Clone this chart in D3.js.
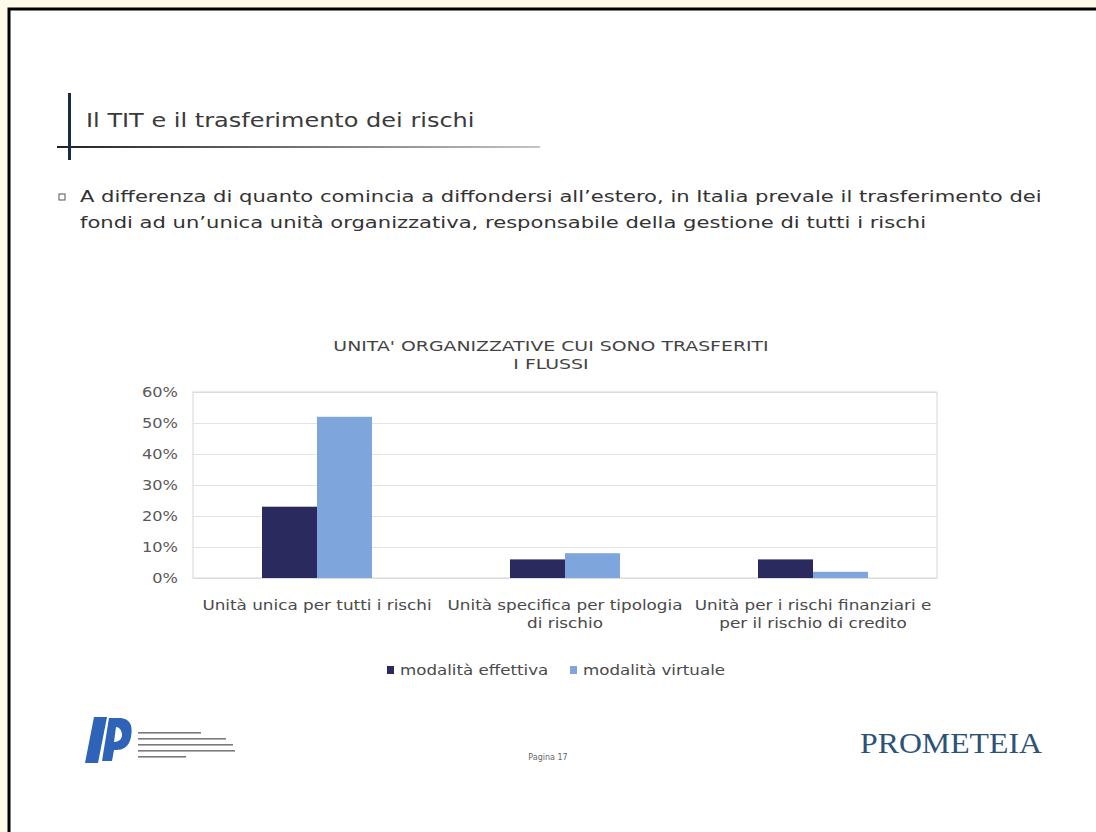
<!DOCTYPE html>
<html><head><meta charset="utf-8">
<script src="https://cdn.jsdelivr.net/npm/d3@7"></script>
<style>
html,body{margin:0;padding:0;background:#fffbe8;}
svg{display:block;}
</style></head>
<body>
<svg id="c" width="1096" height="832"></svg>
<script>
// ---- data ----
const pageTitle = "Il TIT e il trasferimento dei rischi";
const bulletLines = [
  "A differenza di quanto comincia a diffondersi all\u2019estero, in Italia prevale il trasferimento dei",
  "fondi ad un\u2019unica unità organizzativa, responsabile della gestione di tutti i rischi"
];
const chartTitleLines = ["UNITA' ORGANIZZATIVE CUI SONO TRASFERITI", "I FLUSSI"];
const categories = [
  "Unità unica per tutti i rischi",
  "Unità specifica per tipologia di rischio",
  "Unità per i rischi finanziari e per il rischio di credito"
];
const categoryLines = [
  ["Unità unica per tutti i rischi"],
  ["Unità specifica per tipologia", "di rischio"],
  ["Unità per i rischi finanziari e", "per il rischio di credito"]
];
const seriesNames = ["modalità effettiva", "modalità virtuale"];
const effettiva = [0.23, 0.06, 0.06];
const virtuale = [0.52, 0.08, 0.02];
const yTicks = [0, 0.1, 0.2, 0.3, 0.4, 0.5, 0.6];
const colors = ["#2b2a5f", "#7ea5dc"];
const pageLabel = "Pagina 17";
const brand = "PROMETEIA";

const svg = d3.select("#c");

// horizontal widening of glyphs to mimic the wide source font
function stretch(sel, k) {
  sel.each(function () {
    const w = this.getComputedTextLength();
    d3.select(this).attr("textLength", w * k).attr("lengthAdjust", "spacingAndGlyphs");
  });
}

// page frame
svg.append("rect").attr("x", 9).attr("y", 9).attr("width", 1100).attr("height", 840)
  .attr("fill", "#ffffff").attr("stroke", "#000").attr("stroke-width", 3);

// header
const grad = svg.append("defs").append("linearGradient").attr("id", "hl");
grad.append("stop").attr("offset", "0%").attr("stop-color", "#222");
grad.append("stop").attr("offset", "100%").attr("stop-color", "#c4c4c4");
svg.append("rect").attr("x", 57).attr("y", 146).attr("width", 483).attr("height", 2).attr("fill", "url(#hl)");
svg.append("rect").attr("x", 68).attr("y", 93).attr("width", 3).attr("height", 67).attr("fill", "#1b2a45");
svg.append("text").attr("x", 86).attr("y", 127).text(pageTitle)
  .attr("font-family", "DejaVu Sans").attr("font-size", 20).attr("fill", "#3a3a3a")
  .call(stretch, 1.2);

// bullet
svg.append("rect").attr("x", 59).attr("y", 194).attr("width", 6).attr("height", 6)
  .attr("fill", "none").attr("stroke", "#555").attr("stroke-width", 1);
svg.selectAll("text.bullet").data(bulletLines).join("text").attr("class", "bullet")
  .attr("x", 80).attr("y", (d, i) => 202 + i * 26).text(d => d)
  .attr("font-family", "DejaVu Sans").attr("font-size", 15.5).attr("fill", "#333")
  .call(stretch, 1.36);

// chart
const plot = {left: 193, right: 937, top: 392, bottom: 578};
const y = d3.scaleLinear().domain([0, 0.6]).range([plot.bottom, plot.top]);
const x0 = d3.scaleBand().domain(categories).range([plot.left, plot.right]).paddingInner(0).paddingOuter(0);
const x1 = d3.scaleBand().domain(seriesNames).range([0, 110]).padding(0);
const groupOffset = (x0.bandwidth() - 110) / 2;

svg.selectAll("text.ctitle").data(chartTitleLines).join("text").attr("class", "ctitle")
  .attr("x", 551).attr("y", (d, i) => 351 + i * 18).attr("text-anchor", "middle").text(d => d)
  .attr("font-family", "DejaVu Sans").attr("font-size", 14.5).attr("fill", "#444")
  .call(stretch, 1.3);

// gridlines
const grid = svg.append("g").attr("transform", `translate(${plot.left},0)`)
  .call(d3.axisLeft(y).tickValues(yTicks).tickSize(-(plot.right - plot.left)).tickFormat(""));
grid.select(".domain").remove();
grid.selectAll("line").attr("stroke", "#e3e3e3");

// plot border
svg.append("rect").attr("x", plot.left).attr("y", plot.top)
  .attr("width", plot.right - plot.left).attr("height", plot.bottom - plot.top)
  .attr("fill", "none").attr("stroke", "#d6d6d6");

// y axis labels
const yAx = svg.append("g").attr("transform", `translate(${plot.left - 12},0)`)
  .call(d3.axisLeft(y).tickValues(yTicks).tickSize(0).tickFormat(d3.format(".0%")));
yAx.select(".domain").remove();
yAx.selectAll("text").attr("font-family", "DejaVu Sans").attr("font-size", 13.5).attr("fill", "#595959")
  .call(stretch, 1.2);

// bars
const rows = categories.map((c, i) => ({cat: c, vals: [effettiva[i], virtuale[i]]}));
const g = svg.selectAll("g.grp").data(rows).join("g").attr("class", "grp")
  .attr("transform", d => `translate(${x0(d.cat) + groupOffset},0)`);
g.selectAll("rect").data(d => d.vals.map((v, j) => ({s: seriesNames[j], v, j}))).join("rect")
  .attr("x", d => x1(d.s)).attr("width", x1.bandwidth())
  .attr("y", d => y(d.v)).attr("height", d => y(0) - y(d.v))
  .attr("fill", d => colors[d.j]);

// x labels
const xl = svg.selectAll("g.xl").data(categoryLines).join("g").attr("class", "xl")
  .attr("transform", (d, i) => `translate(${x0(categories[i]) + x0.bandwidth() / 2},0)`);
xl.selectAll("text").data(d => d).join("text")
  .attr("x", 0).attr("y", (d, i) => 610 + i * 18).attr("text-anchor", "middle").text(d => d)
  .attr("font-family", "DejaVu Sans").attr("font-size", 14).attr("fill", "#4a4a4a")
  .call(stretch, 1.2);

// legend
const legX = [387, 570];
const lg = svg.selectAll("g.leg").data(seriesNames).join("g").attr("class", "leg")
  .attr("transform", (d, i) => `translate(${legX[i]},666)`);
lg.append("rect").attr("x", 0).attr("y", 0).attr("width", 7).attr("height", 8).attr("fill", (d, i) => colors[i]);
lg.append("text").attr("x", 13).attr("y", 9).text(d => d)
  .attr("font-family", "DejaVu Sans").attr("font-size", 14).attr("fill", "#4a4a4a")
  .call(stretch, 1.19);

// footer: left logo
const logo = svg.append("g").attr("transform", "translate(85,717)");
logo.append("path").attr("d", "M9,0 L22,0 L13,46 L0,46 Z").attr("fill", "#2f63b8");
logo.append("path").attr("d", "M24,1 L34,1 C46,1 48,10 46,20 C44,30 38,33 31,33 L29,33 L27,44 L17,44 Z M31,10 L29,25 C35,25 37,21 37,18 C37,13 34,10 31,10 Z")
  .attr("fill", "#2f63b8");
[63, 88, 95, 97, 48].forEach((w, i) => {
  logo.append("rect").attr("x", 53).attr("y", 15 + i * 6).attr("width", w).attr("height", 1.6).attr("fill", "#7a7a7a");
});

svg.append("text").attr("x", 548).attr("y", 760).attr("text-anchor", "middle").text(pageLabel)
  .attr("font-family", "DejaVu Sans").attr("font-size", 8).attr("fill", "#666");

svg.append("text").attr("x", 951).attr("y", 753).attr("text-anchor", "middle").text(brand)
  .attr("font-family", "Liberation Serif").attr("font-size", 30).attr("fill", "#2c5275")
  .call(stretch, 1.06);
</script>
</body></html>
